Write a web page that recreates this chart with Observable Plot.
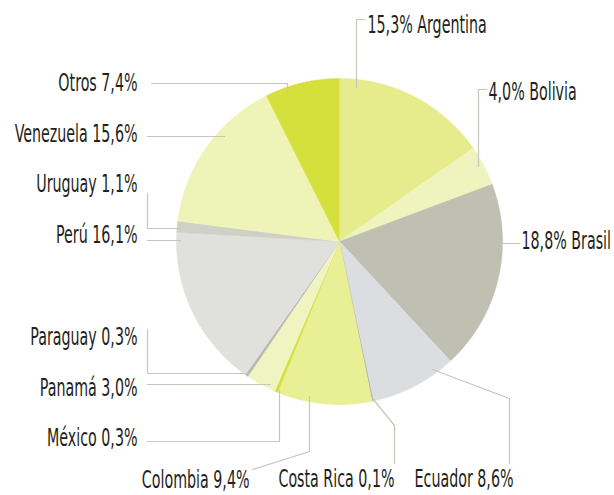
<!DOCTYPE html>
<html><head><meta charset="utf-8">
<script src="https://cdn.jsdelivr.net/npm/d3@7"></script>
<script src="https://cdn.jsdelivr.net/npm/@observablehq/plot@0.6"></script>
<style>body{margin:0;background:#fff}#chart svg{display:block}</style>
</head><body><div id="chart"></div>
<script>
// ---- data ----
const countries = ["Argentina","Bolivia","Brasil","Ecuador","Costa Rica","Colombia","México","Panamá","Paraguay","Perú","Uruguay","Venezuela","Otros"];
const shares    = [15.3, 4.0, 18.8, 8.6, 0.1, 9.4, 0.3, 3.0, 0.3, 16.1, 1.1, 15.6, 7.4];
const colors    = ["#e6eb8c","#eff3bd","#bfc0b1","#dcdde0","#a9aaa2","#e8ef94","#d3df3a","#f0f4c1","#b7b8b0","#e0e1dc","#cfd0c7","#eef3b7","#d6e03d"];
const pctFirst  = [true, true, true, false, false, false, false, false, false, false, false, false, false];

// ---- layout (pixels) ----
const W = 614, H = 495, cx = 339, cy = 241, R = 163;
const labelPos = [ // [x, baseline y]
  [367, 32], [488, 99], [521, 248], [513, 486], [394, 486], [249, 487],
  [137, 445], [137, 395], [137, 344], [137, 242], [137, 191], [137, 141], [137, 90]
];
const leaders = [
  [[356,87],[356,19],[364,19]],
  [[478,166],[478,89],[486,89]],
  [[503,243],[519,243]],
  [[432,369],[509,398],[509,463]],
  [[373,399],[394,425],[394,463]],
  [[309,396],[309,451],[252,469]],
  [[279,390],[279,441],[147,441]],
  [[270,384],[147,384]],
  [[248,373],[147,373],[147,329]],
  [[180,240],[147,240]],
  [[180,228],[147,228],[147,193]],
  [[224,136],[147,136]],
  [[287,96],[287,83],[151,83]]
];

const fmt = v => v.toFixed(1).replace(".", ",") + "%";
const labelText = countries.map((c, i) => pctFirst[i] ? `${fmt(shares[i])} ${c}` : `${c} ${fmt(shares[i])}`);

// pie geometry
const arcs = d3.pie().sort(null).value(d => d).startAngle(0).endAngle(2 * Math.PI)(shares);
const slicePts = [];
arcs.forEach((a, i) => {
  slicePts.push({i, x: cx, y: cy});
  const n = Math.max(2, Math.ceil((a.endAngle - a.startAngle) / 0.005));
  for (let k = 0; k <= n; k++) {
    const t = a.startAngle + (a.endAngle - a.startAngle) * k / n;
    slicePts.push({i, x: cx + R * Math.sin(t), y: cy - R * Math.cos(t)});
  }
});
const leaderPts = leaders.flatMap((pts, i) => pts.map(([x, y]) => ({i, x, y})));
const labels = countries.map((c, i) => ({i, text: labelText[i], x: labelPos[i][0], y: labelPos[i][1], start: pctFirst[i]}));

const font = "'Liberation Sans Narrow','Arial Narrow','DejaVu Sans Condensed',sans-serif";
const plot = Plot.plot({
  width: W, height: H, margin: 0,
  x: {domain: [0, W], range: [0, W], axis: null},
  y: {domain: [0, H], range: [0, H], axis: null},
  color: {type: "identity"},
  style: {background: "#fff"},
  marks: [
    Plot.line(slicePts, {x: "x", y: "y", z: "i", fill: d => colors[d.i], stroke: d => colors[d.i], strokeWidth: 0.6}),
    Plot.line(leaderPts, {x: "x", y: "y", z: "i", stroke: "#c6c6bd", strokeWidth: 1.2}),
    Plot.text(labels.filter(d => d.start), {x: "x", y: "y", text: "text", textAnchor: "start", lineAnchor: "bottom", fill: "#231f20", fontSize: 24, fontFamily: font}),
    Plot.text(labels.filter(d => !d.start), {x: "x", y: "y", text: "text", textAnchor: "end", lineAnchor: "bottom", fill: "#231f20", fontSize: 24, fontFamily: font})
  ]
});
document.getElementById("chart").appendChild(plot);
// condense the type horizontally
const SX = 0.66;
plot.querySelectorAll("text").forEach(t => {
  const tr = t.getAttribute("transform");
  if (tr) t.setAttribute("transform", tr + ` scale(${SX},1)`);
  else { const x = +t.getAttribute("x") || 0; t.setAttribute("transform", `translate(${x},0) scale(${SX},1) translate(${-x},0)`); }
});
</script>
</body></html>
